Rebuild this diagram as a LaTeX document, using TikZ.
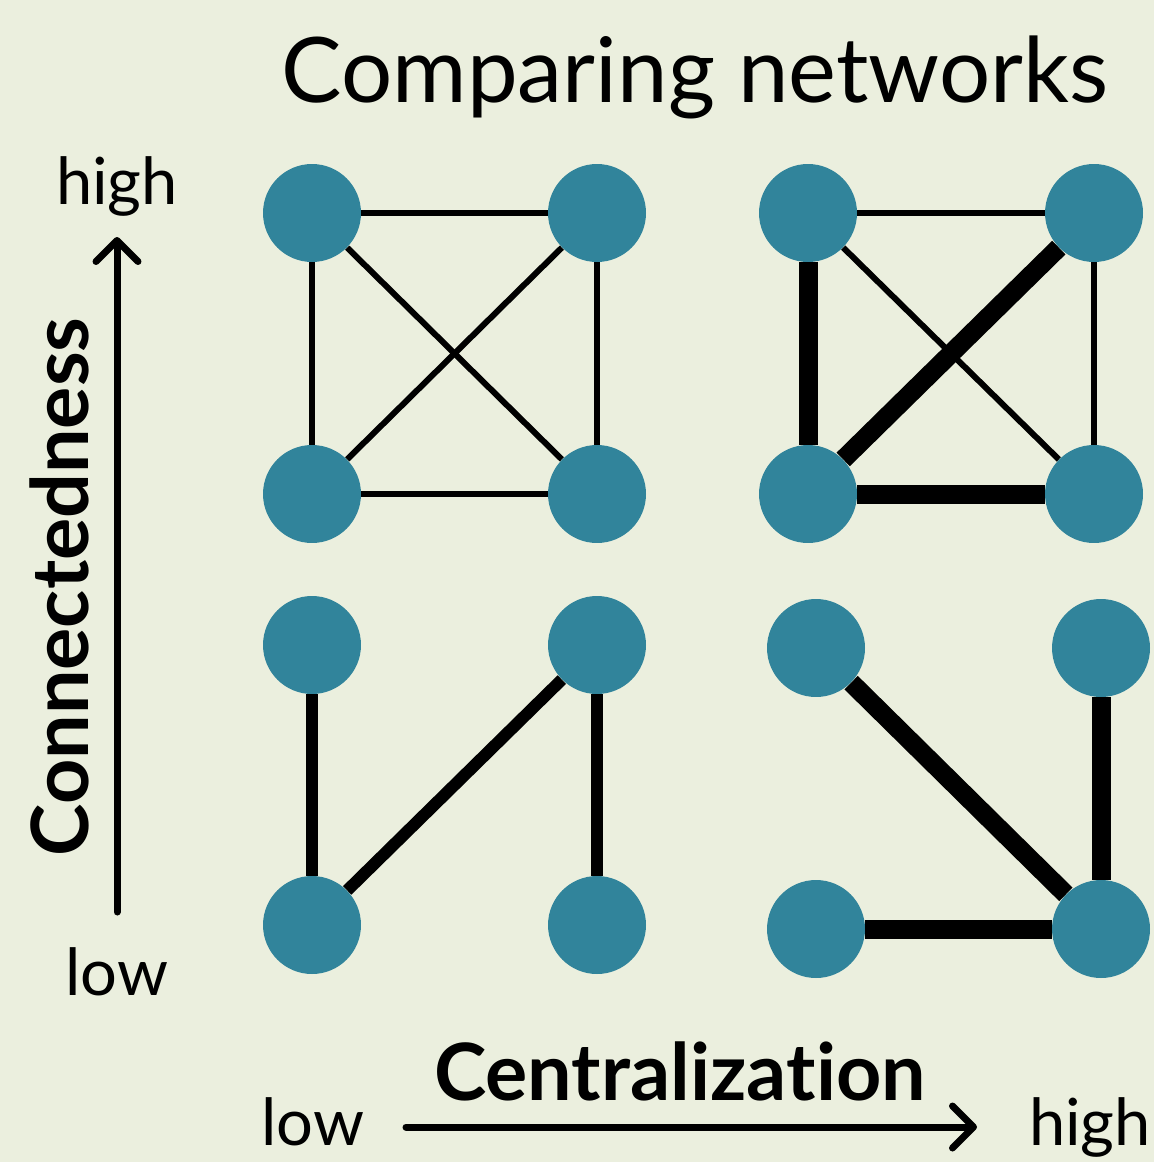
\documentclass[tikz,border=0pt]{standalone}
\usepackage{fontspec}
\setmainfont{Lato}[Ligatures=NoCommon]
\usetikzlibrary{positioning,arrows.meta}

\definecolor{bgcream}{RGB}{235,239,222}
\definecolor{nodeteal}{RGB}{49,132,155}

\begin{document}
\begin{tikzpicture}[x=0.02cm, y=-0.02cm,
	vertex/.style={circle, fill=nodeteal, inner sep=0pt, minimum size=1.96cm},
	thinedge/.style={line width=0.12cm},
	midedge/.style={line width=0.24cm},
	thickedge/.style={line width=0.38cm},
	axis/.style={line width=0.14cm, line cap=round, -{Straight Barb[round, length=0.42cm, width=0.84cm]}},
	axislabel/.style={font=\fontsize{37}{44}\selectfont, anchor=base},
	axistitle/.style={font=\fontsize{45}{52}\selectfont\bfseries, anchor=base}]

	% Hintergrund
	\fill[bgcream] (0,0) rectangle (1154,1162);
	\useasboundingbox (0,0) rectangle (1154,1162);

	% --- Titel ---
	\node[font=\fontsize{51.5}{60}\selectfont, anchor=base] (title) at (695,103) {Comparing networks};

	% --- Netz oben links ---
	\node[vertex] (a1) at (312,213) {};
	\node[vertex] (a2) at (597,213) {};
	\node[vertex] (a3) at (312,494) {};
	\node[vertex] (a4) at (597,494) {};
	\draw[thinedge] (a1) -- (a2);
	\draw[thinedge] (a3) -- (a4);
	\draw[thinedge] (a1) -- (a3);
	\draw[thinedge] (a2) -- (a4);
	\draw[thinedge] (a1) -- (a4);
	\draw[thinedge] (a3) -- (a2);

	% --- Netz oben rechts ---
	\node[vertex] (b1) at (808,213) {};
	\node[vertex] (b2) at (1094,213) {};
	\node[vertex] (b3) at (808,494) {};
	\node[vertex] (b4) at (1094,494) {};
	\draw[thinedge] (b1) -- (b2);
	\draw[thinedge] (b2) -- (b4);
	\draw[thinedge] (b1) -- (b4);
	\draw[thickedge] (b1) -- (b3);
	\draw[thickedge] (b3) -- (b4);
	\draw[thickedge] (b3) -- (b2);

	% --- Netz unten links ---
	\node[vertex] (c1) at (312,645) {};
	\node[vertex] (c2) at (597,645) {};
	\node[vertex] (c3) at (312,925) {};
	\node[vertex] (c4) at (597,925) {};
	\draw[midedge] (c1) -- (c3);
	\draw[midedge] (c3) -- (c2);
	\draw[midedge] (c2) -- (c4);

	% --- Netz unten rechts ---
	\node[vertex] (d1) at (816,648) {};
	\node[vertex] (d2) at (1101,648) {};
	\node[vertex] (d3) at (816,929) {};
	\node[vertex] (d4) at (1101,929) {};
	\draw[thickedge] (d1) -- (d4);
	\draw[thickedge] (d2) -- (d4);
	\draw[thickedge] (d3) -- (d4);

	% --- Achse Connectedness ---
	\node[axislabel] (yhigh) at (117,205) {high};
	\node[axislabel] (ylow) at (117,995) {low};
	\coordinate (ystart) at (117,912);
	\coordinate (yend) at (117,237);
	\draw[axis] (ystart) -- (yend);
	\node[axistitle, rotate=90] (ytitle) at (88,587) {Connectedness};

	% --- Achse Centralization ---
	\node[axislabel] (xlow) at (313,1145) {low};
	\node[axislabel] (xhigh) at (1090,1145) {high};
	\coordinate (xstart) at (406,1127);
	\coordinate (xend) at (977,1127);
	\draw[axis] (xstart) -- (xend);
	\node[axistitle] (xtitle) at (680,1100) {Centraliza\kern0pt tion};

\end{tikzpicture}
\end{document}
